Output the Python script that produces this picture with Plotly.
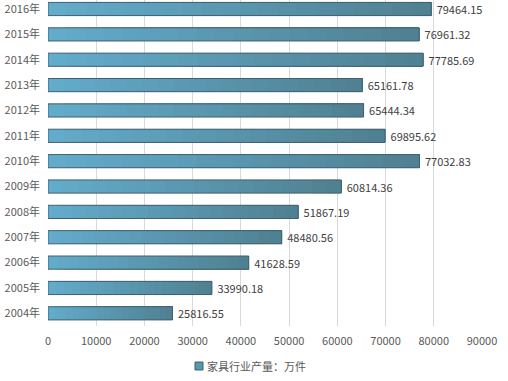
import plotly.graph_objects as go

years = ["2004年", "2005年", "2006年", "2007年", "2008年", "2009年", "2010年",
         "2011年", "2012年", "2013年", "2014年", "2015年", "2016年"]
output = [25816.55, 33990.18, 41628.59, 48480.56, 51867.19, 60814.36, 77032.83,
          69895.62, 65444.34, 65161.78, 77785.69, 76961.32, 79464.15]
x_ticks = [0, 10000, 20000, 30000, 40000, 50000, 60000, 70000, 80000, 90000]
series_name = "家具行业产量：万件"

FONT = "Noto Sans CJK SC, Noto Sans, sans-serif"
N = 20
c0 = (99, 172, 204)   # left colour
c1 = (80, 128, 145)   # right colour

fig = go.Figure()
for k in range(N):
    t = (k + 0.5) / N
    col = "rgb(%d,%d,%d)" % tuple(round(a + (b - a) * t) for a, b in zip(c0, c1))
    fig.add_trace(go.Bar(
        y=years, x=[v * (N - k) / N for v in output], base=[v * k / N for v in output],
        orientation="h", marker=dict(color=col, line=dict(width=0)),
        showlegend=False, hoverinfo="skip", width=0.52,
    ))

# outline + labels
fig.add_trace(go.Bar(
    y=years, x=output, orientation="h", width=0.52,
    marker=dict(color="rgba(0,0,0,0)", line=dict(color="#40606e", width=1)),
    text=["\u00a0%.2f" % v for v in output], textposition="outside", constraintext="none",
    textfont=dict(color="#404040", size=11, family=FONT),
    cliponaxis=False, showlegend=False,
))

PH = 326  # plot height in px
fig.update_layout(
    width=508, height=381,
    margin=dict(l=48, r=26, t=0, b=55),
    barmode="overlay",
    plot_bgcolor="white", paper_bgcolor="white",
    font=dict(family=FONT, color="#595959", size=11),
    xaxis=dict(range=[0, 90000], tickvals=x_ticks, ticktext=[str(v) for v in x_ticks],
               showgrid=True, gridcolor="#d9d9d9", gridwidth=1, zeroline=False,
               showline=False, ticks="", tickfont=dict(size=11, color="#595959"),
               automargin=False, ticklabelstandoff=7),
    yaxis=dict(categoryorder="array", categoryarray=years, range=[-0.5, 12.355],
               showgrid=False, zeroline=False, showline=False, ticks="",
               tickfont=dict(size=11, color="#595959"), automargin=False,
               ticklabelstandoff=7),
    showlegend=False,
)

# legend replica
fig.add_shape(type="rect", xref="paper", yref="paper",
              x0=(195 - 48) / 434, x1=(203 - 48) / 434,
              y0=(PH - 370) / PH, y1=(PH - 362) / PH,
              fillcolor="rgb(90,150,175)", line=dict(color="#40606e", width=1))
fig.add_annotation(text=series_name, xref="paper", yref="paper",
                   x=(205 - 48) / 434, y=(PH - 366) / PH, xanchor="left", yanchor="middle",
                   showarrow=False, font=dict(size=11, color="#595959"))

fig.write_html("out.html", config={"displayModeBar": False},
               post_script="document.body.style.margin='0';")
